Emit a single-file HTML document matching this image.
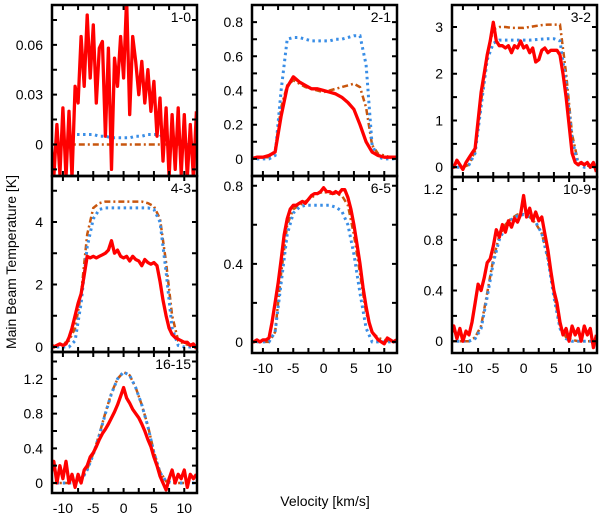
<!DOCTYPE html>
<html><head><meta charset="utf-8">
<style>
html,body{margin:0;padding:0;background:#fff;}
svg{display:block;font-family:"Liberation Sans",Arial,sans-serif;}
</style></head>
<body>
<svg id="chart" width="600" height="516" viewBox="0 0 600 516" xmlns="http://www.w3.org/2000/svg">
<text x="0" y="0" transform="translate(16,262) rotate(-90)" text-anchor="middle" font-size="14">Main Beam Temperature [K]</text>
<text x="325" y="506" text-anchor="middle" font-size="14">Velocity [km/s]</text>
</svg>
<script>
// velocity grids
const velCoarse = [-12,-11,-10,-9,-8,-7,-6,-5,-4,-3,-2,-1,0,1,2,3,4,5,6,7,8,9,10,11,12];
const velFine = [-12,-11.5,-11,-10.5,-10,-9.5,-9,-8.5,-8,-7.5,-7,-6.5,-6,-5.5,-5,-4.5,-4,-3.5,-3,-2.5,-2,-1.5,-1,-0.5,0,0.5,1,1.5,2,2.5,3,3.5,4,4.5,5,5.5,6,6.5,7,7.5,8,8.5,9,9.5,10,10.5,11,11.5,12];
const xTickLabels = [-10,-5,0,5,10];

// 1-0
const obs10 = [0.004,-0.02,0.012,-0.018,0.022,-0.02,0.02,-0.02,0.035,0.025,0.065,0.035,0.078,0.04,0.072,0.025,0.058,0.062,0.005,0.058,-0.015,0.052,0.035,0.065,0.04,0.088,0.018,0.065,0.05,0.03,0.05,0.025,0.045,0.02,0.038,0.005,0.028,-0.01,0.022,-0.02,0.018,-0.015,0.022,-0.018,0.018,-0.02,0.012,-0.02,0.02];
const modA10 = [0,0,0,0.002,0.006,0.006,0.006,0.006,0.005,0.005,0.004,0.004,0.004,0.004,0.005,0.005,0.006,0.006,0.006,0.002,0,0,0,0,0];
const modB10 = [0,0,0,0,0,0,0,0,0,0,0,0,0,0,0,0,0,0,0,0,0,0,0,0,0];
const yTicks10 = [0,0.03,0.06];
// 2-1
const obs21 = [0,0.01,0.01,0.02,0.04,0.25,0.42,0.48,0.45,0.43,0.41,0.41,0.4,0.39,0.38,0.36,0.33,0.29,0.2,0.1,0.04,0.02,0.01,0.01,0.01];
const modA21 = [0,0,0,0,0.02,0.4,0.7,0.71,0.71,0.7,0.69,0.69,0.69,0.69,0.7,0.7,0.71,0.72,0.72,0.55,0.08,0.01,0,0,0];
const modB21 = [0,0.01,0.01,0.01,0.05,0.3,0.43,0.46,0.44,0.42,0.41,0.4,0.39,0.4,0.41,0.42,0.43,0.44,0.42,0.3,0.08,0.03,0.02,0.01,0.01];
const yTicks21 = [0,0.2,0.4,0.6,0.8];
// 3-2
const obs32 = [0.05,0.0,0.15,0.05,-0.05,0.1,0.2,0.3,0.4,1.0,1.6,2.0,2.4,2.7,3.1,2.7,2.6,2.6,2.55,2.6,2.45,2.6,2.55,2.7,2.55,2.6,2.45,2.55,2.25,2.3,2.5,2.55,2.45,2.5,2.5,2.5,2.4,2.0,1.5,0.9,0.3,0.1,0.05,0.1,0.05,0.1,0.0,0.1,-0.1];
const modA32 = [0,0,0,0.05,0.3,1.3,2.3,2.65,2.72,2.72,2.72,2.72,2.72,2.72,2.73,2.74,2.75,2.75,2.7,1.8,0.6,0.05,0,0,0];
const modB32 = [0,0,0,0.05,0.35,1.4,2.4,2.95,3.0,3.0,2.98,2.98,2.98,3.0,3.02,3.04,3.05,3.05,3.05,2.0,0.7,0.1,0.05,0.02,0];
const yTicks32 = [0,1,2,3];
// 4-3
const obs43 = [0.1,0.0,0.05,0.1,0.05,0.1,0.3,0.6,1.0,1.4,1.7,2.3,2.9,2.85,2.9,2.85,2.9,2.95,3.0,3.1,3.4,3.0,3.1,2.9,2.85,2.9,2.75,2.9,2.8,2.75,2.6,2.8,2.7,2.65,2.7,2.6,2.1,1.5,1.0,0.6,0.4,0.3,0.25,0.2,0.15,0.15,0.05,0.1,-0.05];
const modA43 = [0,0,0,0,0.2,1.4,3.2,4.1,4.4,4.45,4.45,4.45,4.45,4.45,4.45,4.45,4.45,4.4,4.0,2.4,0.6,0.05,0,0,0];
const modB43 = [0,0.05,0.1,0.2,0.6,1.7,3.6,4.45,4.6,4.65,4.65,4.65,4.65,4.65,4.65,4.65,4.6,4.5,4.1,2.7,1.0,0.2,0.1,0.05,0];
const yTicks43 = [0,2,4];
// 6-5
const obs65 = [0,0,0.01,0,0.01,0.01,0.02,0.1,0.2,0.3,0.42,0.55,0.63,0.68,0.7,0.7,0.71,0.72,0.71,0.73,0.75,0.76,0.76,0.77,0.79,0.77,0.77,0.76,0.77,0.76,0.78,0.78,0.74,0.68,0.6,0.5,0.4,0.28,0.18,0.1,0.05,0.03,0.01,0.0,-0.01,0.02,0.01,0.0,0.01];
const modA65 = [0,0,0,0,0.05,0.3,0.55,0.66,0.69,0.7,0.7,0.7,0.7,0.7,0.69,0.67,0.6,0.45,0.25,0.07,0,0,0,0,0];
const modB65 = [0,0,0,0,0.05,0.35,0.6,0.68,0.7,0.72,0.74,0.76,0.77,0.76,0.76,0.75,0.7,0.55,0.35,0.15,0.05,0.02,0.01,0,0];
const yTicks65 = [0,0.4,0.8];
// 10-9
const obs109 = [0.05,0.12,0.02,0.1,0.0,0.08,0.05,0.15,0.3,0.45,0.4,0.5,0.62,0.65,0.75,0.88,0.82,0.92,0.86,0.95,0.9,0.97,0.94,1.0,1.15,0.98,1.05,0.95,1.02,0.95,0.98,0.85,0.72,0.55,0.4,0.3,0.15,0.05,0.1,0.0,0.12,0.05,0.1,0.0,0.12,0.05,0.1,-0.05,0.05];
const modA109 = [0,0,0,0,0.02,0.1,0.35,0.62,0.8,0.9,0.96,0.99,1.0,0.98,0.94,0.85,0.65,0.35,0.1,0.02,0,0,0,0,0];
const modB109 = [0,0,0,0,0.03,0.12,0.38,0.65,0.83,0.92,0.97,1.0,1.0,0.98,0.93,0.85,0.66,0.38,0.12,0.03,0.01,0,0,0,0];
const yTicks109 = [0,0.4,0.8,1.2];
// 16-15
const obs1615 = [0.1,0.25,0.0,0.2,0.05,0.25,0.0,0.1,-0.05,0.1,0.0,0.15,0.2,0.3,0.35,0.42,0.5,0.57,0.62,0.68,0.75,0.82,0.9,1.0,1.1,0.98,0.92,0.85,0.8,0.75,0.68,0.6,0.5,0.42,0.3,0.2,0.08,0.0,-0.08,0.05,0.15,0.0,0.1,0.05,0.15,-0.05,0.1,0.05,0.1];
const modA1615 = [0,0,0,0,0,0.03,0.15,0.33,0.55,0.8,1.03,1.2,1.28,1.24,1.1,0.9,0.65,0.35,0.12,0.02,0,0,0,0,0];
const modB1615 = [0,0,0,0,0,0.03,0.16,0.34,0.56,0.81,1.04,1.2,1.28,1.24,1.1,0.9,0.66,0.36,0.13,0.02,0,0,0,0,0];
const yTicks1615 = [0,0.4,0.8,1.2];

const NS='http://www.w3.org/2000/svg';
const svg=document.getElementById('chart');
function mk(tag,attrs,parent){const e=document.createElementNS(NS,tag);for(const k in attrs)e.setAttribute(k,attrs[k]);(parent||svg).appendChild(e);return e;}

const panels=[
 {id:'1-0',x0:52,x1:197,y0:5,y1:176,ymin:-0.019,ymax:0.084,minor:0.015,ticks:yTicks10,obs:obs10,obsV:velFine,a:modA10,b:modB10,fmt:v=>v===0?'0':v.toFixed(2),xl:false},
 {id:'2-1',x0:252,x1:397,y0:5,y1:176,ymin:-0.1,ymax:0.9,minor:0.1,ticks:yTicks21,obs:obs21,obsV:velCoarse,a:modA21,b:modB21,fmt:v=>v===0?'0':v.toFixed(1),xl:false},
 {id:'3-2',x0:452,x1:597,y0:5,y1:177,ymin:-0.21,ymax:3.47,minor:0.5,ticks:yTicks32,obs:obs32,obsV:velFine,a:modA32,b:modB32,fmt:v=>String(v),xl:false},
 {id:'4-3',x0:52,x1:197,y0:176,y1:352,ymin:-0.16,ymax:5.47,minor:1,ticks:yTicks43,obs:obs43,obsV:velFine,a:modA43,b:modB43,fmt:v=>String(v),xl:false},
 {id:'6-5',x0:252,x1:397,y0:176,y1:353,ymin:-0.057,ymax:0.85,minor:0.2,ticks:yTicks65,obs:obs65,obsV:velFine,a:modA65,b:modB65,fmt:v=>v===0?'0':v.toFixed(1),xl:true},
 {id:'10-9',x0:452,x1:597,y0:177,y1:353,ymin:-0.093,ymax:1.296,minor:0.2,ticks:yTicks109,obs:obs109,obsV:velFine,a:modA109,b:modB109,fmt:v=>v===0?'0':v.toFixed(1),xl:true},
 {id:'16-15',x0:52,x1:197,y0:352,y1:493,ymin:-0.115,ymax:1.51,minor:0.2,ticks:yTicks1615,obs:obs1615,obsV:velFine,a:modA1615,b:modB1615,fmt:v=>v===0?'0':v.toFixed(1),xl:true},
];
const XMIN=-11.8, XMAX=12.1;
panels.forEach((p,i)=>{
  const g=mk('g',{});
  
  
  const sx=v=>p.x0+(v-XMIN)/(XMAX-XMIN)*(p.x1-p.x0);
  const sy=v=>p.y1-(v-p.ymin)/(p.ymax-p.ymin)*(p.y1-p.y0);
  const cid='clip'+i;
  const cp=mk('clipPath',{id:cid},g);
  mk('rect',{x:p.x0,y:p.y0,width:p.x1-p.x0,height:p.y1-p.y0},cp);
  const pts=(vs,ys)=>vs.map((v,k)=>sx(v).toFixed(1)+','+sy(ys[k]).toFixed(1)).join(' ');
  const b=mk('polyline',{points:pts(velCoarse,p.b),fill:'none',stroke:'#c8560e','stroke-width':2.5,'stroke-dasharray':'6,3,2,3','clip-path':'url(#'+cid+')'},g);
  
  
  const a=mk('polyline',{points:pts(velCoarse,p.a),fill:'none',stroke:'#3a8ee6','stroke-width':3,'stroke-dasharray':'2.5,3.5','clip-path':'url(#'+cid+')'},g);
  
  
  const o=mk('polyline',{points:pts(p.obsV,p.obs),fill:'none',stroke:'#ff0000','stroke-width':3.3,'stroke-linejoin':'round','clip-path':'url(#'+cid+')'},g);
  
  
  let d='';
  for(let v=-10;v<=10.01;v+=2.5){const x=sx(v);d+=`M${x},${p.y1}v-5M${x},${p.y0}v5`;}
  const start=Math.ceil(p.ymin/p.minor-1e-6);
  for(let k=start;k*p.minor<=p.ymax;k++){const y=sy(k*p.minor);d+=`M${p.x0},${y}h5M${p.x1},${y}h-5`;}
  mk('path',{d:d,stroke:'#000','stroke-width':2,fill:'none'},g);
  const fr=mk('rect',{x:p.x0,y:p.y0,width:p.x1-p.x0,height:p.y1-p.y0,fill:'none',stroke:'#000','stroke-width':2.5},g);
  
  
  const lab=mk('text',{x:p.x1-6,y:p.y0+17,'text-anchor':'end','font-size':14},g);
  lab.textContent=p.id;
  
  
  p.ticks.forEach(t=>{
    const tx=mk('text',{x:p.x0-9,y:sy(t)+5,'text-anchor':'end','font-size':14},g);
    tx.textContent=p.fmt(t);
    
    
  });
  if(p.xl){
    xTickLabels.forEach(t=>{
      const tx=mk('text',{x:sx(t),y:p.y1+20,'text-anchor':'middle','font-size':14},g);
      tx.textContent=String(t);
      
      
    });
  }
});
</script>
</body></html>
